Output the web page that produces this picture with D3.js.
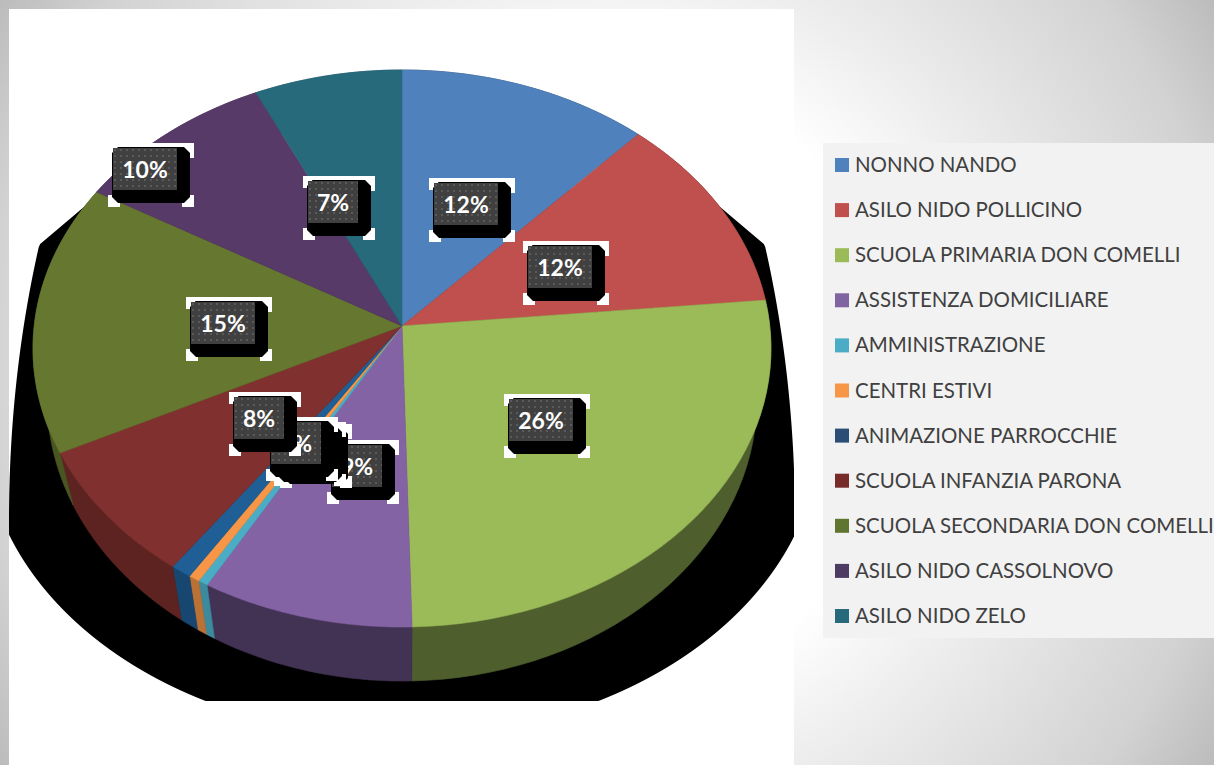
<!DOCTYPE html>
<html><head><meta charset="utf-8">
<script src="https://cdn.jsdelivr.net/npm/d3@7/dist/d3.min.js"></script>
<style>html,body{margin:0;padding:0;background:#fff;overflow:hidden}svg{display:block}</style>
</head><body><div id="c"></div>
<script>
const categories = ["NONNO NANDO","ASILO NIDO POLLICINO","SCUOLA PRIMARIA DON COMELLI","ASSISTENZA DOMICILIARE","AMMINISTRAZIONE","CENTRI ESTIVI","ANIMAZIONE PARROCCHIE","SCUOLA INFANZIA PARONA","SCUOLA SECONDARIA DON COMELLI","ASILO NIDO CASSOLNOVO","ASILO NIDO ZELO"];
const values = [11.9,11.6,26.1,8.6,0.4,0.45,0.85,7.8,15.7,9.6,7.0];
const percentLabels = ["12%","12%","26%","9%","0%","0%","1%","8%","15%","10%","7%"];
const legendColors = ["#4f81bd","#c0504d","#9bbb59","#8064a2","#4bacc6","#f79646","#2c4d75","#772c2a","#5f7530","#4d3b62","#276a7c"];
const pieColors = ["#4f81bd","#c0504d","#9bbb59","#8463a5","#4bacc6","#f79646","#1f5f96","#80302e","#66782f","#583a68","#276a7c"];
const sideShade = [.5,.5,.5,.5,.8,.75,.75,.72,.72,.7,.7];
const labelNudge = [[-1,2],[-4,1],[-2,0],[1,0],[4,0],[2,0],[1,-2],[1,0],[5,2],[-136,-58],[-30,6]];

const W=1214,H=765;
const svg=d3.select("#c").append("svg").attr("width",W).attr("height",H).attr("viewBox",`0 0 ${W} ${H}`);
const defs=svg.append("defs");
const bg=defs.append("radialGradient").attr("id","bg").attr("gradientUnits","userSpaceOnUse")
  .attr("cx",607).attr("cy",383).attr("r",720);
[[0.42,"#ffffff"],[0.58,"#eeeeee"],[0.87,"#d2d2d2"],[1,"#bbbbbb"]].forEach(s=>bg.append("stop").attr("offset",s[0]).attr("stop-color",s[1]));
defs.append("clipPath").attr("id","plot").append("rect").attr("x",9).attr("y",9).attr("width",785).attr("height",692);
const pat=defs.append("pattern").attr("id","dots").attr("patternUnits","userSpaceOnUse").attr("width",6).attr("height",6);
pat.append("rect").attr("width",6).attr("height",6).attr("fill","#404040");
pat.append("rect").attr("x",1).attr("y",1).attr("width",2).attr("height",2).attr("fill","#5a5a5a");

svg.append("rect").attr("width",W).attr("height",H).attr("fill","url(#bg)");
svg.append("rect").attr("x",9).attr("y",9).attr("width",785).attr("height",H-9).attr("fill","#fff");

// perspective view of the pie disc
const cx=402,k=0.0808;
const topRim={y0:326,Rx:367.8,Ry:276.7}, lowRim={y0:376.2,Rx:353.8,Ry:280.2};
function project(a,r,v){const s=Math.sin(a),c=Math.cos(a),w=1+k*r*c;return [cx+v.Rx*r*s/w,v.y0-v.Ry*r*c/w];}

const pie=d3.pie().sort(null).value(d=>d);
const arcs=pie(values);
const line=d3.line();
const samples=(a0,a1,v)=>d3.range(0,41).map(i=>project(a0+(a1-a0)*i/40,1,v));

// shadow: tapered shoulder, upper flank and lower bowl of the cast shadow, clipped to the plot area
const shadowG=svg.append("g").attr("clip-path","url(#plot)");
const shoulder=d3.scaleLinear().domain([190,245]).range([298,363]);
const halfWidth=y=>y<245 ? shoulder(y) : y<520 ? 393*Math.sqrt(1-Math.pow((y-520)/715,2)) : 418*Math.sqrt(1-Math.pow((y-430)/307,2));
const shadowArea=d3.area().y(d=>d).x0(d=>cx-halfWidth(d)).x1(d=>cx+halfWidth(d));
shadowG.append("path").attr("d",shadowArea(d3.range(190,704,3))).attr("fill","#000");

// side wall
const sideG=svg.append("g");
arcs.forEach((d,i)=>{
  const c=d3.rgb(pieColors[i]),f=sideShade[i];
  const pts=samples(d.startAngle,d.endAngle,topRim).concat(samples(d.startAngle,d.endAngle,lowRim).reverse());
  const col=d3.rgb(c.r*f,c.g*f,c.b*f);
  sideG.append("path").attr("d",line(pts)+"Z").attr("fill",col).attr("stroke",col).attr("stroke-width",.6);
});

// top face
const faceG=svg.append("g");
arcs.forEach((d,i)=>{
  const pts=[project(0,0,topRim)].concat(samples(d.startAngle,d.endAngle,topRim));
  faceG.append("path").attr("d",line(pts)+"Z").attr("fill",pieColors[i]).attr("stroke",pieColors[i]).attr("stroke-width",.6);
});

// data labels (painted in the same order as the reference: later ones cover earlier ones)
const labelG=svg.append("g");
const chamfer=(x0,y0,x1,y1,n)=>[[x0+n,y0],[x1-n,y0],[x1,y0+n],[x1,y1-n],[x1-n,y1],[x0+n,y1],[x0,y1-n],[x0,y0+n]];
arcs.forEach((d,i)=>{
  const p=project((d.startAngle+d.endAngle)/2,0.5,topRim);
  const t=percentLabels[i], w=t.length>2?64:50, h=42;
  const gx=Math.round(p[0]+labelNudge[i][0]-w/2), gy=Math.round(p[1]+labelNudge[i][1]-h/2);
  const g=labelG.append("g").attr("transform",`translate(${gx},${gy})`);
  const R=w+17,B=h+17,L=-5,T=-5;
  const white=[
    [[L,T],[R,T],[R,T+15],[R-12,T+15],[R-12,T+4],[L+9,T+4],[L+9,T+12],[L,T+12]],
    [[L,B-12],[L+12,B-12],[L+12,B],[L,B]],
    [[R-12,B-12],[R,B-12],[R,B],[R-12,B]]
  ];
  white.forEach(q=>g.append("path").attr("d",line(q)+"Z").attr("fill","#fff"));
  g.append("path").attr("d",line(chamfer(-1,-1,w+13,h+13,6))+"Z").attr("fill","#000");
  g.append("rect").attr("width",w).attr("height",h).attr("fill","url(#dots)");
  g.append("text").attr("x",w/2).attr("y",h/2+9).attr("text-anchor","middle")
    .attr("font-family","Lato, Carlito, sans-serif").attr("font-weight",700).attr("font-size",23).attr("fill","#fff").text(t);
});

// legend
const legend=svg.append("g");
legend.append("rect").attr("x",823).attr("y",143).attr("width",W-823).attr("height",495).attr("fill","#f2f2f2");
const ly=d3.scalePoint().domain(categories).range([165,616]);
const rows=legend.selectAll("g.row").data(categories).join("g").attr("class","row").attr("transform",d=>`translate(835,${ly(d)})`);
rows.append("rect").attr("y",-7).attr("width",14).attr("height",14).attr("fill",(d,i)=>legendColors[i]);
rows.append("text").attr("x",20).attr("y",7).attr("font-family","Lato, Carlito, sans-serif").attr("font-size",20.45).attr("fill","#404040").text(d=>d);
</script></body></html>
